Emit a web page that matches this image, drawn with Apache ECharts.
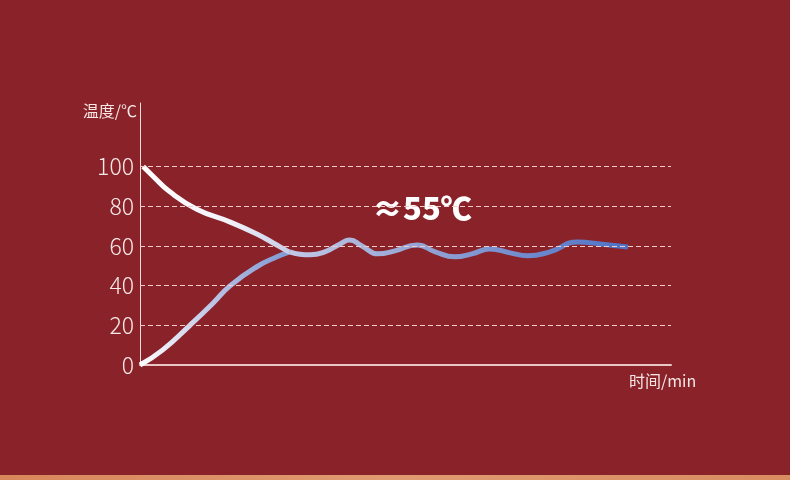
<!DOCTYPE html>
<html><head><meta charset="utf-8">
<script src="https://cdn.jsdelivr.net/npm/echarts@6/dist/echarts.min.js"></script>
<style>html,body{margin:0;padding:0;background:#8a2329;}#c{width:790px;height:480px;}</style>
</head><body><div id="c"></div>
<script>
// time positions (arbitrary minutes scale 0..100) and temperatures (°C)
var timeUp = [0, 4.3, 9.4, 13.7, 17, 22, 25.8, 28.2];
var tempUp = [0, 7.6, 20, 31, 40, 49.5, 54.5, 57];
var timeDown = [0.6, 2.5, 5.5, 10.7, 17, 22, 25, 27.7, 28.2];
var tempDown = [100, 95, 87.5, 78.5, 72, 66, 61.6, 57.5, 57];
var timeSteady = [28.2, 30.1, 32, 34.8, 37.7, 39.5, 41.8, 44.8, 48, 52.2, 55.6, 59.3, 62.5, 65.9, 69.7, 73, 77.2, 82.5, 86.6, 91.9];
var tempSteady = [57, 55.8, 55.5, 57, 61, 63, 60, 56, 57.5, 60.5, 57, 54.5, 56, 58.5, 56.5, 55, 57, 62, 61, 59.5];
var gridTicks = [20, 40, 60, 80, 100];
var annotation = '≈55℃';

function pairs(xs, ys){ return xs.map(function(x,i){ return [x, ys[i]]; }); }

var chart = echarts.init(document.getElementById('c'));
var G = echarts.graphic;
chart.setOption({
  backgroundColor: '#8a2329',
  animation: false,
  grid: {left: 140, right: 119, top: 103, bottom: 115},
  xAxis: {
    type: 'value', min: 0, max: 100,
    name: '时间/min', nameLocation: 'end', nameGap: -42,
    nameTextStyle: {color: '#f6e6e6', fontSize: 16, fontFamily: 'Noto Sans CJK SC', verticalAlign: 'top', padding: [8, 0, 0, 0]},
    axisLine: {lineStyle: {color: '#e9c6c6', width: 2}},
    axisTick: {show: false}, axisLabel: {show: false}, splitLine: {show: false}
  },
  yAxis: {
    type: 'value', min: 0, max: 132, interval: 20,
    name: '温度/℃', nameLocation: 'end', nameGap: -16,
    nameTextStyle: {color: '#f6e6e6', fontSize: 16, fontFamily: 'Noto Sans CJK SC', align: 'right', padding: [0, 3, 0, 0]},
    axisLine: {show: true, lineStyle: {color: '#f2dede', width: 1}},
    axisTick: {show: false},
    splitLine: {show: false},
    axisLabel: {
      color: '#f6e8e8', fontSize: 23, fontFamily: 'Noto Sans CJK SC', fontWeight: 300, margin: 6,
      formatter: function(v){ return v > 100 ? '' : String(v); }
    }
  },
  graphic: [
    {type: 'rect', left: 0, top: 475, shape: {width: 790, height: 5},
     style: {fill: new G.LinearGradient(0,0,1,0,[{offset:0,color:'#d8875a'},{offset:0.5,color:'#e09a72'},{offset:1,color:'#d98c60'}])}},
    {type: 'text', left: 372, top: 193, style: {text: annotation, fill: '#ffffff', font: '900 31px "Noto Sans CJK SC"'}}
  ],
  series: [
    {
      type: 'line', data: pairs(timeUp, tempUp), smooth: true, symbol: 'none',
      lineStyle: {width: 5, color: new G.LinearGradient(0,1,1,0,[{offset:0,color:'#ffffff'},{offset:0.55,color:'#b7c1e4'},{offset:1,color:'#7d96d2'}])},
      markLine: {
        silent: true, symbol: 'none', label: {show: false},
        lineStyle: {color: '#f2caca', type: [5, 3], width: 1},
        data: gridTicks.map(function(v){ return {yAxis: v}; })
      }
    },
    {
      type: 'line', data: pairs(timeDown, tempDown), smooth: true, symbol: 'none',
      lineStyle: {width: 5, color: new G.LinearGradient(0,0,1,1,[{offset:0,color:'#ffffff'},{offset:0.6,color:'#f2f2fa'},{offset:1,color:'#c4cae6'}])}
    },
    {
      type: 'line', data: pairs(timeSteady, tempSteady), smooth: true, symbol: 'none',
      lineStyle: {width: 5, color: new G.LinearGradient(0,0,1,0,[{offset:0,color:'#c3c8e5'},{offset:0.4,color:'#93a3d4'},{offset:1,color:'#4c72c6'}])}
    }
  ]
});
</script></body></html>
